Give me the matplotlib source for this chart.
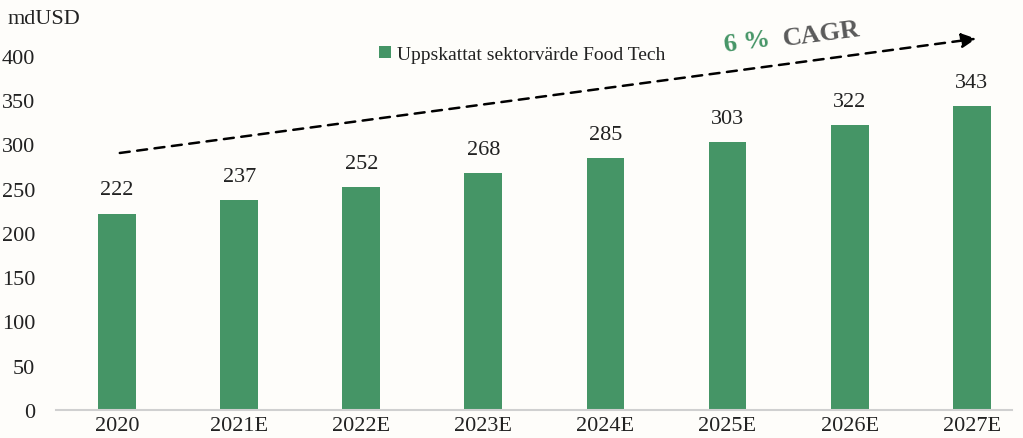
import matplotlib.pyplot as plt

years = ['2020', '2021E', '2022E', '2023E', '2024E', '2025E', '2026E', '2027E']
values = [222, 237, 252, 268, 285, 303, 322, 343]
yticks = [0, 50, 100, 150, 200, 250, 300, 350, 400]

green = '#459566'
bg = '#fefdfa'
plt.rcParams['font.family'] = ['Liberation Serif', 'DejaVu Serif']

fig = plt.figure(figsize=(10.23, 4.39), dpi=100, facecolor=bg)
ax = fig.add_axes([56/1023, 28/439, 956/1023, 354/439], facecolor=bg)

x = list(range(len(years)))
bars = ax.bar(x, values, width=0.31, color=green, label='Uppskattat sektorvärde Food Tech')
for xi, v in zip(x, values):
    ax.text(xi, v + 16, str(v), ha='center', va='bottom', fontsize=16, color='#222222')

ax.set_xlim(-0.5, 7.33)
ax.set_ylim(0, 400)
ax.set_xticks(x)
ax.set_xticklabels(years, fontsize=16)
ax.set_yticks(yticks)
ax.set_yticklabels([str(t) for t in yticks], fontsize=16)
ax.tick_params(axis='both', length=0, colors='#222222')
ax.tick_params(axis='y', pad=15)
ax.tick_params(axis='x', pad=4)
for s in ['top', 'right', 'left']:
    ax.spines[s].set_visible(False)
ax.spines['bottom'].set_color('#d0d0d0')
ax.spines['bottom'].set_linewidth(1.5)

fig.text(8/1023, 1 - 20/439, 'mdUSD', fontsize=16, va='center', ha='left', color='#222222')

# trend arrow
ax.annotate('', xy=(7.06, 420), xytext=(0, 290), annotation_clip=False,
            arrowprops=dict(arrowstyle='-|>', color='black', lw=1.8, ls=(0, (4, 3)),
                            mutation_scale=22))
ax.text(4.96, 416, '6 %', color=green, fontsize=19, fontweight='bold', rotation=7.5,
        ha='left', va='center', clip_on=False)
ax.text(5.44, 426, 'CAGR', color='#5a5a5a', fontsize=19, fontweight='bold', rotation=7.5,
        ha='left', va='center', clip_on=False)

leg = ax.legend(loc='upper left', bbox_to_anchor=(0.33, 1.05), frameon=False, fontsize=14,
                handlelength=0.6, handleheight=0.6, handletextpad=0.3, borderaxespad=0)
for t in leg.get_texts():
    t.set_color('#222222')

plt.savefig('out.png', dpi=100, facecolor=bg)
